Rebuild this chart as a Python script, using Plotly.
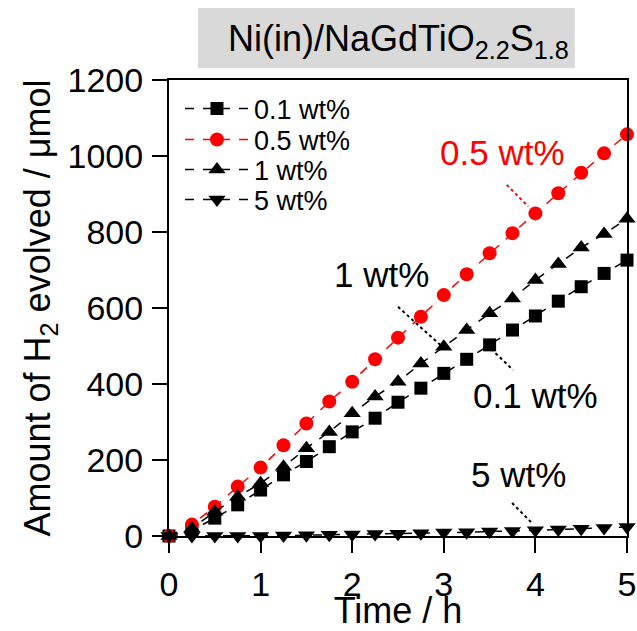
import plotly.graph_objects as go

time_h = [0, 0.25, 0.5, 0.75, 1, 1.25, 1.5, 1.75, 2, 2.25, 2.5, 2.75, 3, 3.25, 3.5, 3.75, 4, 4.25, 4.5, 4.75, 5]
h2_01 = [0, 15, 47, 82, 121, 161, 196, 235, 274, 310, 352, 389, 428, 465, 503, 542, 579, 618, 656, 691, 726]
h2_05 = [0, 30, 77, 130, 180, 239, 296, 354, 406, 465, 522, 577, 634, 689, 744, 797, 849, 902, 956, 1007, 1057]
h2_1 = [0, 20, 64, 103, 139, 182, 231, 274, 323, 367, 406, 454, 498, 542, 586, 625, 674, 716, 759, 795, 835]
h2_5 = [0, 0, 0, 0, 0, 1, 2, 3, 4, 5, 6, 7, 9, 10, 12, 13, 15, 17, 19, 21, 24]

series_names = ["0.1 wt%", "0.5 wt%", "1 wt%", "5 wt%"]
series_vals = [h2_01, h2_05, h2_1, h2_5]
series_colors = ["black", "#ff0000", "black", "black"]
series_symbols = ["square", "circle", "triangle-up", "triangle-down"]
series_sizes = [13, 14, 15, 15]
legend_ids = ["legend", "legend2", "legend3", "legend4"]
legend_rows_px = [109, 140, 170, 200]   # row centres of the legend (pixels from top)

FONT = "Liberation Sans, Arial, sans-serif"
PLOT_TOP, PLOT_BOTTOM = 80, 536

fig = go.Figure()
for name, vals, col, sym, sz, lg in zip(series_names, series_vals, series_colors,
                                         series_symbols, series_sizes, legend_ids):
    fig.add_trace(go.Scatter(
        x=time_h, y=vals, name=name, mode="lines+markers",
        line=dict(color=col, width=1.5, dash="dash"),
        marker=dict(color=col, symbol=sym, size=sz, line=dict(width=0)),
        cliponaxis=False, legend=lg,
    ))

# label annotations with dotted leader lines (data coords)
labels = [
    dict(text="0.5 wt%", x=3.646, y=1010, color="#ff0000", line=(3.687, 924, 3.923, 867)),
    dict(text="1 wt%", x=2.325, y=687, color="black", line=(2.5, 603, 2.99, 497)),
    dict(text="0.1 wt%", x=3.996, y=371, color="black", line=(3.47, 503, 3.755, 437)),
    dict(text="5 wt%", x=3.82, y=161, color="black", line=(3.745, 87, 3.963, 34)),
]
for lb in labels:
    fig.add_annotation(x=lb["x"], y=lb["y"], xref="x", yref="y", text=lb["text"],
                       showarrow=False, font=dict(family=FONT, size=35, color=lb["color"]))
    x0, y0, x1, y1 = lb["line"]
    fig.add_shape(type="line", xref="x", yref="y", x0=x0, y0=y0, x1=x1, y1=y1,
                  line=dict(color=lb["color"], width=2, dash="dot"))

# title box
fig.add_shape(type="rect", xref="paper", yref="paper", x0=0.063, x1=0.886, y0=1.026, y1=1.158,
              fillcolor="#d9d9d9", line=dict(width=0), layer="below")
fig.add_annotation(xref="paper", yref="paper", x=0.502, y=1.140, showarrow=False,
                   text="Ni(in)/NaGdTiO<sub>2.2</sub>S<sub>1.8</sub>",
                   font=dict(family=FONT, size=36, color="black"))

axis_common = dict(
    showline=True, linecolor="black", linewidth=2, mirror=True,
    ticks="outside", ticklen=15, tickwidth=2, tickcolor="black",
    showgrid=False, zeroline=False, ticklabeloverflow="allow",
    tickfont=dict(family=FONT, size=34, color="black"),
)

fig.update_xaxes(range=[0, 5], tickvals=[0, 1, 2, 3, 4, 5], ticklabelstandoff=2, automargin=True,
                 title=dict(text="Time / h", font=dict(family=FONT, size=36, color="black"), standoff=4),
                 **axis_common)
fig.update_yaxes(range=[0, 1200], tickvals=[0, 200, 400, 600, 800, 1000, 1200], ticklabelstandoff=2,
                 title=dict(text="Amount of H<sub>2</sub> evolved / μmol",
                            font=dict(family=FONT, size=36, color="black"), standoff=6),
                 **axis_common)

legend_layout = {}
for lg, row in zip(legend_ids, legend_rows_px):
    legend_layout[lg] = dict(
        x=0.024, y=(PLOT_BOTTOM - row) / (PLOT_BOTTOM - PLOT_TOP),
        xanchor="left", yanchor="middle",
        font=dict(family=FONT, size=27, color="black"),
        bgcolor="rgba(0,0,0,0)", itemwidth=64,
    )

fig.update_layout(
    width=637, height=631,
    margin=dict(l=169, r=10, t=80, b=95, autoexpand=False),
    paper_bgcolor="white", plot_bgcolor="white",
    font=dict(family=FONT, color="black"),
    showlegend=True,
    **legend_layout,
)

fig.write_html("out.html")
